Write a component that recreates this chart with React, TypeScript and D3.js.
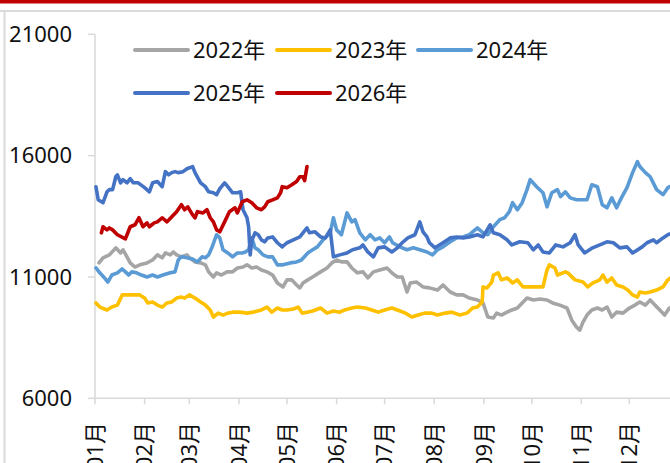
import React from 'react';
import * as d3 from 'd3';

type Pt = [number, number]; // [day of year, value]

const monthLabels = ["01月", "02月", "03月", "04月", "05月", "06月", "07月", "08月", "09月", "10月", "11月", "12月"];
const monthStartDays = [0, 31, 59, 90, 120, 151, 181, 212, 243, 273, 304, 334];
const yTicks = [6000, 11000, 16000, 21000];

const seriesNames = ["2022年", "2023年", "2024年", "2025年", "2026年"];
const seriesColors = ["#a5a5a5", "#ffc000", "#5b9bd5", "#4472c4", "#c00000"];

const s2022: Pt[] = [[2.5,11580],[5,11790],[9,11910],[13,12200],[16,11990],[17.5,12120],[20,11830],[22,11580],[25,11410],[28,11500],[32.5,11580],[36,11700],[39,11910],[42,11790],[44,11990],[47,11910],[49,12030],[51,11910],[54,11830],[57.5,11910],[59,11790],[62.5,11620],[66,11580],[69,11500],[71,11210],[74,11000],[76,11170],[79,11080],[82.5,11210],[86,11210],[89,11370],[92.5,11410],[95,11500],[98,11370],[101,11410],[104,11290],[107.5,11210],[111,11080],[114,10750],[117.5,10590],[120,10880],[123,10880],[126,10670],[128,10550],[130,10750],[133,10880],[136,11000],[141,11210],[145,11370],[148,11580],[151,11700],[154,11620],[157.5,11620],[160.5,11370],[164,11170],[167.5,11210],[170.5,10960],[174,11210],[178,11290],[182.5,11370],[185.5,11170],[189,11000],[192,11000],[195,10380],[197,10750],[201,10790],[205,10590],[209,10550],[214,10460],[217.5,10670],[222,10380],[226,10260],[230,10260],[234,10130],[239,10050],[242.5,9930],[245.5,9350],[249,9310],[251,9510],[254,9430],[257.5,9550],[260.5,9640],[264,9720],[267,9930],[270,10130],[274,10050],[278,10090],[282.5,10050],[286,9930],[290.5,9840],[295,9720],[298,9220],[301,8930],[303,8810],[305,9140],[307.5,9430],[310.5,9640],[314,9720],[317,9640],[320,9760],[323,9350],[326,9550],[330,9510],[334,9720],[337.5,9840],[340.5,9970],[344,9840],[347,10050],[350,9840],[353,9640],[356,9430],[359,9720],[362,9650]];

const s2023: Pt[] = [[0.6,9930],[3,9760],[7.5,9640],[10.5,9760],[14,9840],[17,10260],[20,10260],[24,10260],[28,10260],[31,10130],[33,9930],[36,9970],[39,9840],[42,9760],[45,9930],[48,9970],[51,10130],[54,10170],[56,10130],[59,10260],[62.5,10130],[66,9970],[69,9840],[72,9640],[74,9350],[77,9510],[80,9430],[83,9510],[86,9550],[90.5,9550],[95,9510],[99,9550],[104,9640],[107.5,9760],[110.5,9550],[114,9720],[117,9640],[120,9640],[124,9680],[127,9760],[129.5,9510],[132.5,9550],[136,9600],[141,9720],[145,9510],[149,9600],[153,9550],[156,9640],[160.5,9720],[164,9760],[169,9720],[173,9640],[177,9550],[181,9640],[185.5,9720],[189,9640],[194,9510],[198,9350],[202,9430],[206,9510],[210.5,9510],[214,9430],[219,9510],[223,9550],[228,9430],[232.5,9510],[236,9720],[239,9760],[242,9970],[242.5,10590],[245,10550],[248,10790],[249,11080],[252,11170],[254,10880],[257.5,10960],[259,10880],[261,10750],[264,10880],[265.5,10750],[267.5,10590],[274,10590],[280,10590],[282.5,11290],[284,11500],[287.5,11370],[289,11080],[294,11210],[295.5,11170],[300,10880],[305,10790],[308,10590],[311,10750],[315.5,10880],[317.5,11080],[320,10790],[323,10960],[326,10670],[330,10590],[333,10460],[336,10260],[339,10170],[340.5,10380],[344,10340],[347,10380],[351,10460],[355,10590],[358,10880],[360.5,11000]];

const s2024: Pt[] = [[0.6,11370],[3,11170],[6,10960],[8,10790],[10.5,11080],[14,11170],[17,11330],[19,11210],[21,11080],[23,11210],[26,11170],[29,11080],[32.5,11000],[36,11080],[39,11000],[42.5,11080],[47,11170],[50,11210],[52,11700],[54,11830],[57.5,11790],[61,11740],[64,11620],[67,11830],[69,11790],[71,11910],[73,12200],[76,12740],[78,12610],[80,12120],[83,11990],[86,11830],[89,11990],[92,11990],[94,12030],[96,12120],[98,12610],[100,12200],[102,12120],[105,11910],[108,11830],[111,11830],[114,11500],[117.5,11500],[122,11580],[126,11620],[129,11700],[133,11990],[136,12120],[139,12240],[142.5,12530],[147,12820],[149,13440],[151,12940],[154,12740],[157.5,13640],[160.5,13270],[162.5,13360],[165.5,12820],[169,12530],[172,12740],[175,12530],[178,12610],[181,12410],[184,12650],[186,12410],[190.5,12240],[195,12120],[199,12200],[203,12120],[207.5,12030],[211,11910],[214,12120],[217.5,12240],[222,12450],[226,12610],[230,12650],[234,12740],[239,13020],[242.5,12820],[245.5,12740],[249,13070],[253,13360],[256,13440],[259,13690],[261,14060],[264,13770],[267,14060],[270,14600],[272,15010],[276,14720],[280,14470],[282.5,13890],[285.5,14470],[289,14600],[291,14310],[294,14510],[297,14260],[301,14180],[307.5,14180],[310.5,14800],[314,14720],[317,13980],[320,13850],[323,14260],[326,13850],[329,14260],[332.5,14680],[336,15300],[339,15750],[340.5,15550],[344,15300],[347,15130],[351,14600],[355,14390],[358,14680],[360.5,14760]];

const s2025: Pt[] = [[0.6,14720],[2,14180],[5,14060],[7.5,14510],[9,14600],[11,14600],[13,15130],[14,15210],[16,14880],[17.5,15010],[20,14880],[22,15050],[24,14880],[27,14880],[31,14680],[34,14510],[36,14880],[39,14930],[42,14720],[44,15340],[46,15210],[48,15300],[50,15340],[52,15300],[55,15340],[57.5,15460],[61,15550],[62.5,15300],[66,14880],[69,14720],[71,14510],[74,14470],[76,14390],[78,14640],[81,14880],[83,14720],[86,14470],[89,14470],[91,14510],[92.5,13770],[95,13440],[96,13070],[97,11910],[98,12530],[99,12650],[100,12820],[102,12740],[104,12530],[106,12450],[108,12610],[111,12650],[114,12410],[117,12240],[120,12410],[124,12530],[128,12650],[132.5,13020],[134,12820],[137.5,12860],[141,12650],[144,12610],[147,12940],[149,11830],[153,11910],[157.5,11990],[161,12120],[165.5,12200],[167.5,12320],[170.5,12030],[174,11830],[177,12200],[181,12240],[185.5,12030],[189,12200],[192,12410],[195.5,12610],[200,12740],[203,13270],[205,12860],[207.5,12650],[209,12410],[212.5,12200],[217.5,12410],[222,12610],[226,12650],[230,12610],[234,12650],[239,12740],[242.5,12650],[247,13150],[249,12820],[253,12740],[257.5,12530],[260.5,12320],[265.5,12450],[270.5,12410],[274,12120],[277,12320],[280,12030],[284,11990],[288,12320],[292.5,12240],[297,12410],[300,12740],[302,12320],[306,11990],[311,12200],[315.5,12320],[320,12450],[324,12410],[328,12200],[332.5,12240],[336,11990],[342,12240],[345,12410],[349,12530],[351,12410],[355,12610],[358,12740],[361,12820]];

const s2026: Pt[] = [[4,12820],[5,13070],[7.5,12940],[9,13020],[11,12940],[14,12740],[19,12570],[22,13070],[25,13150],[27.5,13440],[30,13070],[32.5,13230],[34,13070],[37,13230],[39,13270],[42,13440],[45,13270],[48,13480],[51,13690],[54,13980],[56,13770],[58,13890],[61,13560],[62.5,13440],[64,13690],[67.5,13640],[70,13770],[72,13440],[74,13270],[76,12940],[78,12860],[81,13270],[84,13690],[87.5,13850],[89,13640],[92,14100],[95,14180],[98,14060],[101,13850],[104,13770],[106,13890],[108,14100],[111,14180],[114,14260],[116,14470],[117,14720],[120,14680],[123,14800],[126,14930],[128,15130],[130,15130],[131,14970],[132.5,15550]];

const allSeries: Pt[][] = [s2022, s2023, s2024, s2025, s2026];

const FONT = '"Noto Sans", "Noto Sans CJK SC", sans-serif';

export default function App() {
  const W = 670, H = 463;
  const x = d3.scaleLinear().domain([0, 365]).range([95, 679]);
  const y = d3.scaleLinear().domain([6000, 21000]).range([398.3, 34.3]);
  const line = d3.line<Pt>().x(d => x(d[0])).y(d => y(d[1])).curve(d3.curveLinear);
  const axisColor = '#d9d9d9';

  const legendItems = [
    { i: 0, lx: 135, ly: 50 },
    { i: 1, lx: 277, ly: 50 },
    { i: 2, lx: 418, ly: 50 },
    { i: 3, lx: 135, ly: 93 },
    { i: 4, lx: 277, ly: 93 },
  ];

  return (
    <svg width={W} height={H} style={{ position: 'absolute', left: 0, top: 0, background: '#fff' }} fontFamily={FONT}>
      <rect x={0} y={0} width={W} height={H} fill="#fff" />
      {/* frame */}
      <rect x={0} y={0} width={W} height={3.5} fill="#c00000" />
      <line x1={0} x2={W} y1={11} y2={11} stroke="#dadada" strokeWidth={2} />
      <line x1={4.5} x2={4.5} y1={11} y2={H} stroke="#dadada" strokeWidth={2} />

      {/* y axis */}
      <line x1={x(0)} x2={x(0)} y1={y(21000)} y2={y(6000)} stroke={axisColor} strokeWidth={1.5} />
      {yTicks.map(t => (
        <g key={t}>
          <line x1={88} x2={x(0)} y1={y(t)} y2={y(t)} stroke={axisColor} strokeWidth={1.5} />
          <text x={72} y={y(t)} dy="0.35em" textAnchor="end" fontSize={22} fill="#111">{t}</text>
        </g>
      ))}

      {/* x axis */}
      <line x1={x(0)} x2={W} y1={y(6000)} y2={y(6000)} stroke={axisColor} strokeWidth={1.5} />
      {monthStartDays.map((d, i) => (
        <g key={i}>
          <line x1={x(d)} x2={x(d)} y1={y(6000)} y2={y(6000) + 6} stroke={axisColor} strokeWidth={1.5} />
          <text transform={`translate(${x(d)},422) rotate(-90)`} textAnchor="end" dy="0.35em" fontSize={22} fill="#111">{monthLabels[i]}</text>
        </g>
      ))}

      {/* series */}
      {allSeries.map((s, i) => (
        <path key={i} d={line(s) || ''} fill="none" stroke={seriesColors[i]} strokeWidth={3.6} strokeLinejoin="round" strokeLinecap="round" />
      ))}

      {/* legend */}
      {legendItems.map(({ i, lx, ly }) => (
        <g key={i}>
          <line x1={lx} x2={lx + 53} y1={ly} y2={ly} stroke={seriesColors[i]} strokeWidth={4} strokeLinecap="round" />
          <text x={lx + 58} y={ly} dy="0.35em" fontSize={22} fill="#111">{seriesNames[i]}</text>
        </g>
      ))}
    </svg>
  );
}
